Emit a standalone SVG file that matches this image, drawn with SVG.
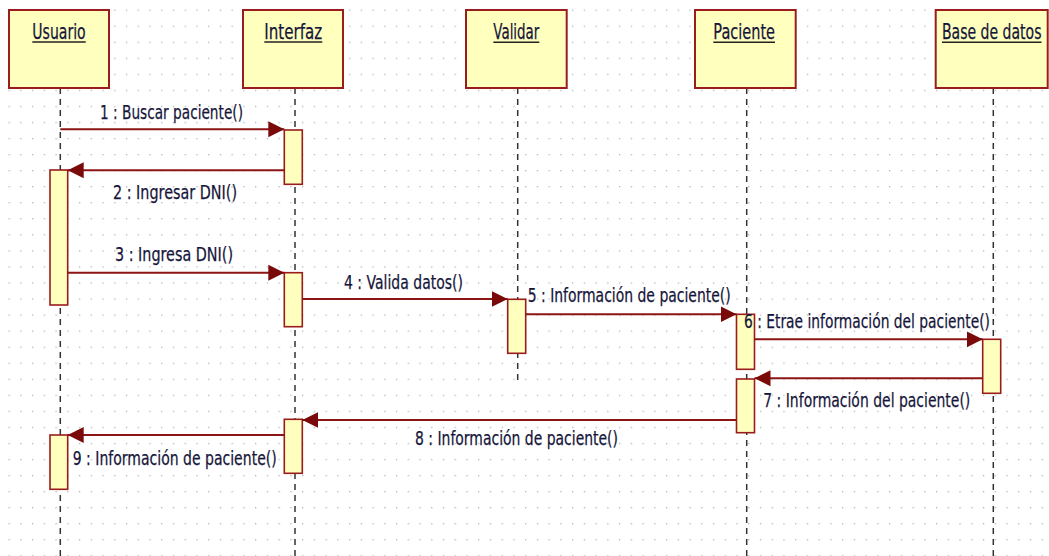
<svg xmlns="http://www.w3.org/2000/svg" width="1049" height="556" viewBox="0 0 1049 556">
<defs>
<pattern id="grid" patternUnits="userSpaceOnUse" x="8.5" y="9.5" width="11.74" height="16.05">
<rect x="0" y="0" width="1.3" height="1.3" fill="#b4b4b4"/>
</pattern>
<marker id="arr" markerUnits="userSpaceOnUse" markerWidth="17" markerHeight="17" viewBox="0 0 17 17" refX="16" refY="8.5" orient="auto">
<path d="M0,0.5 L16,8.5 L0,16.5 Z" fill="#7a0a0a"/>
</marker>
<style>
.box{fill:#ffffbe;stroke:#9a1c1c;stroke-width:2}
.act{fill:#ffffbe;stroke:#9a1c1c;stroke-width:1.6}
.life{stroke:#333;stroke-width:1.5;stroke-dasharray:6 5;fill:none}
.ul{stroke:#222;stroke-width:1.5}
.msg{stroke:#8b1515;stroke-width:2;fill:none;marker-end:url(#arr)}
.lbl{font-family:"DejaVu Sans",sans-serif;font-size:19.5px;fill:#15153a;stroke:#15153a;stroke-width:0.25}
.ttl{font-size:21px}
</style>
</defs>
<rect x="0" y="0" width="1049" height="556" fill="#ffffff"/>
<rect x="0" y="0" width="1049" height="556" fill="url(#grid)"/>

<g id="lifelines">
<line class="life" x1="60.3" y1="88" x2="60.3" y2="556"/>
<line class="life" x1="295" y1="88" x2="295" y2="556"/>
<line class="life" x1="517.7" y1="88" x2="517.7" y2="384"/>
<line class="life" x1="746.7" y1="88" x2="746.7" y2="556"/>
<line class="life" x1="993.3" y1="88" x2="993.3" y2="556"/>
</g>

<g id="usuario">
<rect class="box" x="9" y="10" width="100" height="78"/>
<text class="lbl ttl" x="32.3" y="38.5" textLength="53.4" lengthAdjust="spacingAndGlyphs">Usuario</text>
<line class="ul" x1="32.3" y1="42" x2="85.7" y2="42"/>
<rect class="act" x="50" y="170" width="17.7" height="135"/>
<rect class="act" x="50" y="435" width="17.7" height="54.3"/>
</g>

<g id="interfaz">
<rect class="box" x="243" y="10" width="100" height="78"/>
<text class="lbl ttl" x="264.3" y="38.5" textLength="58" lengthAdjust="spacingAndGlyphs">Interfaz</text>
<line class="ul" x1="264.3" y1="42" x2="322.3" y2="42"/>
<rect class="act" x="284.3" y="130" width="18" height="54.3"/>
<rect class="act" x="284.3" y="272.7" width="18" height="54"/>
<rect class="act" x="284.3" y="419.3" width="18" height="54"/>
</g>

<g id="validar">
<rect class="box" x="466" y="10" width="100.7" height="78"/>
<text class="lbl ttl" x="493.3" y="38.5" textLength="46" lengthAdjust="spacingAndGlyphs">Validar</text>
<line class="ul" x1="493.3" y1="42.3" x2="539.3" y2="42.3"/>
<rect class="act" x="507.7" y="299.3" width="18" height="54"/>
</g>

<g id="paciente">
<rect class="box" x="695" y="10" width="100.7" height="78"/>
<text class="lbl ttl" x="713.3" y="38.5" textLength="61.7" lengthAdjust="spacingAndGlyphs">Paciente</text>
<line class="ul" x1="713.3" y1="42.3" x2="775" y2="42.3"/>
<rect class="act" x="736.5" y="314.3" width="18" height="55"/>
<rect class="act" x="736.5" y="379" width="18" height="53.7"/>
</g>

<g id="base-de-datos">
<rect class="box" x="935.7" y="10" width="112" height="78"/>
<text class="lbl ttl" x="942" y="38.5" textLength="99.5" lengthAdjust="spacingAndGlyphs">Base de datos</text>
<line class="ul" x1="942" y1="42.3" x2="1041.5" y2="42.3"/>
<rect class="act" x="982.7" y="339.3" width="18" height="54"/>
</g>

<g id="connectors">
<line class="msg" x1="60.3" y1="129.3" x2="284.3" y2="129.3"/>
<line class="msg" x1="284.3" y1="170.3" x2="67.7" y2="170.3"/>
<line class="msg" x1="67.7" y1="272.7" x2="284.3" y2="272.7"/>
<line class="msg" x1="302.3" y1="299" x2="507.7" y2="299"/>
<line class="msg" x1="525.7" y1="314.3" x2="736.5" y2="314.3"/>
<line class="msg" x1="754.5" y1="339.3" x2="982.7" y2="339.3"/>
<line class="msg" x1="982.7" y1="378.3" x2="754.5" y2="378.3"/>
<line class="msg" x1="736.5" y1="420" x2="302.3" y2="420"/>
<line class="msg" x1="284.3" y1="435" x2="67.7" y2="435"/>
<text class="lbl" x="100" y="119" textLength="143" lengthAdjust="spacingAndGlyphs">1 : Buscar paciente()</text>
<text class="lbl" x="113" y="199" textLength="124" lengthAdjust="spacingAndGlyphs">2 : Ingresar DNI()</text>
<text class="lbl" x="115" y="261" textLength="118" lengthAdjust="spacingAndGlyphs">3 : Ingresa DNI()</text>
<text class="lbl" x="344" y="289" textLength="119" lengthAdjust="spacingAndGlyphs">4 : Valida datos()</text>
<text class="lbl" x="527.7" y="302" textLength="203" lengthAdjust="spacingAndGlyphs">5 : Información de paciente()</text>
<text class="lbl" x="744" y="328" textLength="246" lengthAdjust="spacingAndGlyphs">6 : Etrae información del paciente()</text>
<text class="lbl" x="763.3" y="407" textLength="207" lengthAdjust="spacingAndGlyphs">7 : Información del paciente()</text>
<text class="lbl" x="415" y="445" textLength="203" lengthAdjust="spacingAndGlyphs">8 : Información de paciente()</text>
<text class="lbl" x="72.7" y="465" textLength="204" lengthAdjust="spacingAndGlyphs">9 : Información de paciente()</text>
</g>
</svg>
